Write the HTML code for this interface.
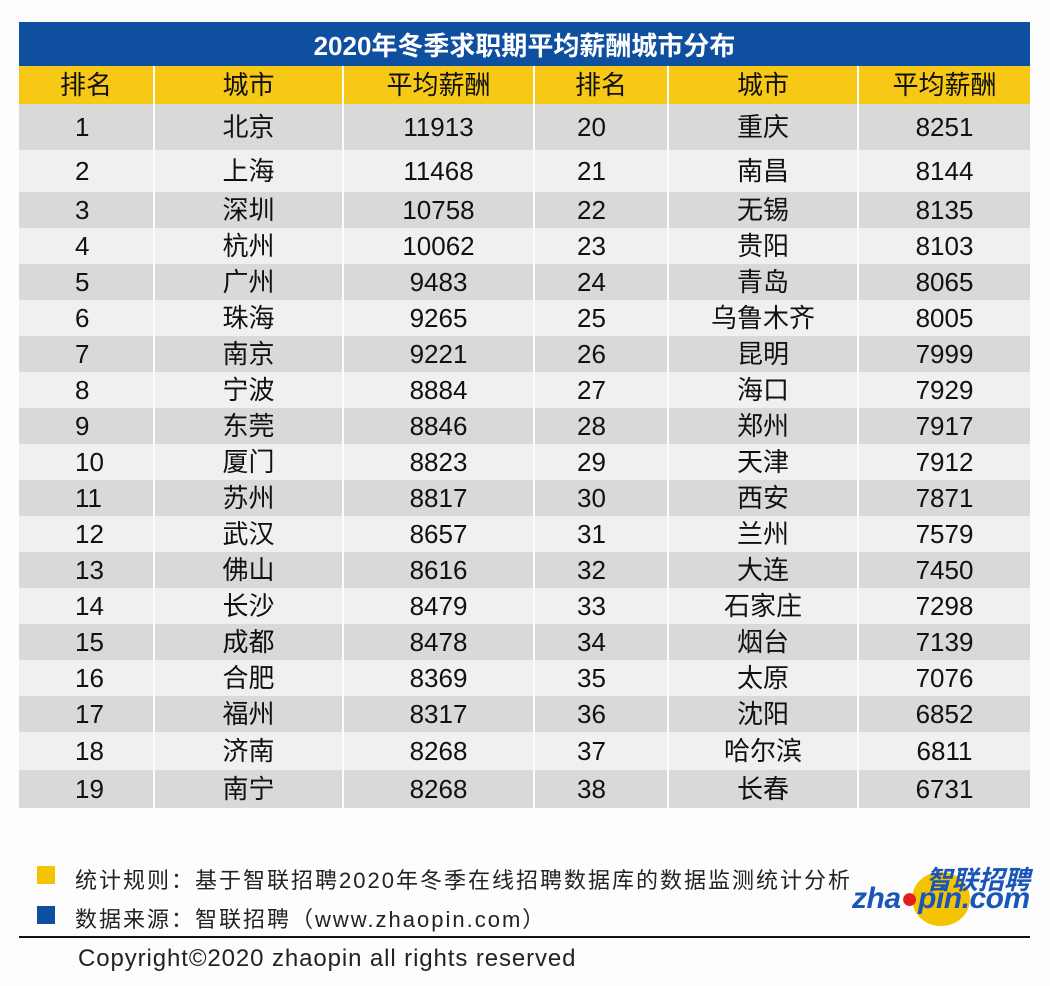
<!DOCTYPE html>
<html><head><meta charset="utf-8">
<style>
body{margin:0;width:1050px;height:986px;background:#fdfdfd;position:relative;overflow:hidden;font-family:"Liberation Sans","Noto Sans CJK SC",sans-serif;}
.abs{position:absolute;}
.cell{position:absolute;display:flex;align-items:center;justify-content:center;font-size:26px;line-height:1;color:#111;box-sizing:border-box;}
</style></head><body>
<div class="abs" style="left:19px;top:22px;width:1011px;height:44px;background:#0f4fa0;color:#fff;font-weight:bold;font-size:26px;display:flex;align-items:center;justify-content:center;">2020年冬季求职期平均薪酬城市分布</div>
<div id="tbl"></div>
<div class="abs" style="left:37px;top:866px;width:18px;height:18px;background:#f5c400;"></div>
<div class="abs" style="left:75px;top:863px;font-size:22px;letter-spacing:2px;color:#222;">统计规则：基于智联招聘2020年冬季在线招聘数据库的数据监测统计分析</div>
<div class="abs" style="left:37px;top:906px;width:18px;height:18px;background:#0f4fa0;"></div>
<div class="abs" style="left:75px;top:902px;font-size:22px;letter-spacing:2px;color:#222;">数据来源：智联招聘（www.zhaopin.com）</div>
<div class="abs" style="left:850px;top:860px;width:180px;height:60px;">
  <div class="abs" style="left:62px;top:12px;width:58px;height:54px;border-radius:50%;background:#f5c400;"></div>
  <div class="abs" style="left:76px;top:0px;font-size:26px;font-weight:bold;font-style:italic;color:#1a56b8;">智联招聘</div>
  <div class="abs" style="left:2px;top:22px;font-size:30px;font-weight:bold;font-style:italic;color:#1a56b8;letter-spacing:-0.5px;">zha<span style="color:#e02020">●</span>pin.com</div>
</div>
<div class="abs" style="left:19px;top:936px;width:1011px;height:2px;background:#111;"></div>
<div class="abs" style="left:78px;top:945px;font-size:24px;letter-spacing:0.9px;color:#222;">Copyright©2020 zhaopin all rights reserved</div>
<script>
const ranks=[1,2,3,4,5,6,7,8,9,10,11,12,13,14,15,16,17,18,19,20,21,22,23,24,25,26,27,28,29,30,31,32,33,34,35,36,37,38];
const cities=["北京","上海","深圳","杭州","广州","珠海","南京","宁波","东莞","厦门","苏州","武汉","佛山","长沙","成都","合肥","福州","济南","南宁","重庆","南昌","无锡","贵阳","青岛","乌鲁木齐","昆明","海口","郑州","天津","西安","兰州","大连","石家庄","烟台","太原","沈阳","哈尔滨","长春"];
const salaries=[11913,11468,10758,10062,9483,9265,9221,8884,8846,8823,8817,8657,8616,8479,8478,8369,8317,8268,8268,8251,8144,8135,8103,8065,8005,7999,7929,7917,7912,7871,7579,7450,7298,7139,7076,6852,6811,6731];
const headers=["排名","城市","平均薪酬"];
const colX=[19,153,342,533,667,857,1030];
const rowTops=[104,150,192,228,264,300,336,372,408,444,480,516,552,588,624,660,696,732,770,808];
const tbl=document.getElementById('tbl');
function cell(x,y,w,h,txt,bg,name){
  const d=document.createElement('div');
  d.className='cell';
  d.style.cssText=`left:${x}px;top:${y}px;width:${w}px;height:${h}px;background:${bg};`;
  d.textContent=txt;
  
  
  tbl.appendChild(d);return d;
}
for(let c=0;c<6;c++){
  const x=colX[c]+(c?2:0), w=colX[c+1]-x;
  cell(x,66,w,38,headers[c%3],'#f7c815','header-cell');
}
const half=19;
for(let i=0;i<ranks.length;i++){
  const side=i<half?0:1, r=i%half;
  const y=rowTops[r], h=rowTops[r+1]-rowTops[r];
  const bg=r%2===0?'#d9d9d9':'#f0f0f0';
  const vals=[ranks[i],cities[i],salaries[i]];
  for(let k=0;k<3;k++){
    const c=side*3+k;
    const x=colX[c]+(c?2:0), w=colX[c+1]-x;
    const d=cell(x,y,w,h,vals[k],bg,k===0?'rank-cell':k===1?'city-cell':'salary-cell');
    if(k===0){d.style.justifyContent='flex-start';d.style.paddingLeft=(side?42:56)+'px';}
  }
}
</script>
</body></html>
